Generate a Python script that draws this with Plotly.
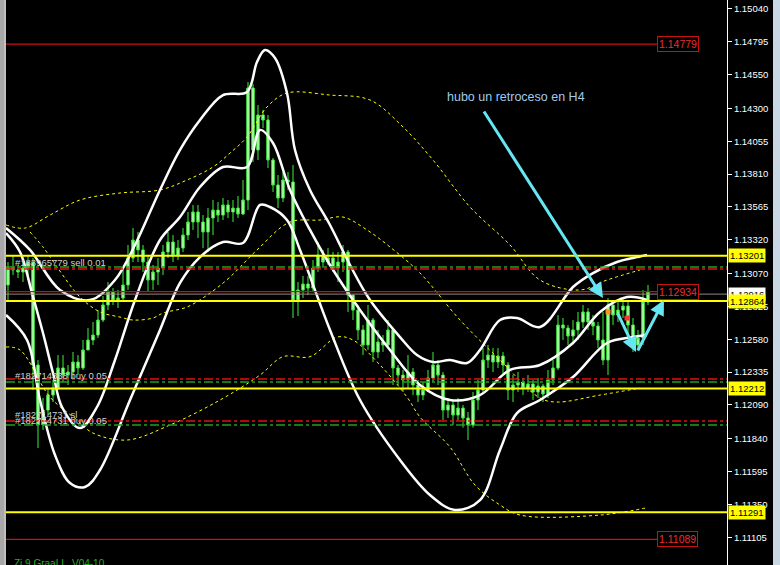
import plotly.graph_objects as go

# ---------------- data (EURUSD-like candles) ----------------
opens = [1.12984, 1.13111, 1.13096, 1.13081, 1.13111, 1.13155, 1.12388, 1.11941, 1.12052, 1.12164,
         1.12216, 1.12366, 1.12313, 1.12336, 1.12410, 1.12366, 1.12500, 1.12574, 1.12611, 1.12723,
         1.12835, 1.12932, 1.12872, 1.12887, 1.12984, 1.13185, 1.13319, 1.13245, 1.13155, 1.13021,
         1.13081, 1.13111, 1.13230, 1.13304, 1.13207, 1.13259, 1.13356, 1.13453, 1.13528, 1.13453,
         1.13379, 1.13483, 1.13542, 1.13505, 1.13580, 1.13528, 1.13557, 1.13513, 1.13617, 1.14451,
         1.13990, 1.14250, 1.14213, 1.13915, 1.13729, 1.13632, 1.13766, 1.13751, 1.12872, 1.12947,
         1.12991, 1.12961, 1.13111, 1.13207, 1.13155, 1.13185, 1.13111, 1.13155, 1.13230, 1.12909,
         1.12797, 1.12649, 1.12537, 1.12723, 1.12485, 1.12559, 1.12537, 1.12649, 1.12366, 1.12313,
         1.12276, 1.12336, 1.12239, 1.12164, 1.12202, 1.12291, 1.12388, 1.12313, 1.12052, 1.12090,
         1.12015, 1.12067, 1.11993, 1.11941, 1.12127, 1.12202, 1.12425, 1.12462, 1.12410, 1.12455,
         1.12388, 1.12202, 1.12239, 1.12261, 1.12216, 1.12246, 1.12187, 1.12231, 1.12172, 1.12276,
         1.12366, 1.12686, 1.12663, 1.12604, 1.12649, 1.12708, 1.12783, 1.12708, 1.12678, 1.12574,
         1.12425, 1.12835, 1.12760, 1.12797, 1.12827, 1.12686, 1.12537, 1.12589, 1.12857]
closes = [1.13111, 1.13096, 1.13081, 1.13111, 1.13155, 1.12388, 1.11941, 1.12052, 1.12164, 1.12216,
          1.12366, 1.12313, 1.12336, 1.12410, 1.12366, 1.12500, 1.12574, 1.12611, 1.12723, 1.12835,
          1.12932, 1.12872, 1.12887, 1.12984, 1.13185, 1.13319, 1.13245, 1.13155, 1.13021, 1.13081,
          1.13111, 1.13230, 1.13304, 1.13207, 1.13259, 1.13356, 1.13453, 1.13528, 1.13453, 1.13379,
          1.13483, 1.13542, 1.13505, 1.13580, 1.13528, 1.13557, 1.13513, 1.13617, 1.14451, 1.13990,
          1.14250, 1.14213, 1.13915, 1.13729, 1.13632, 1.13766, 1.13751, 1.12872, 1.12947, 1.12991,
          1.12961, 1.13111, 1.13207, 1.13155, 1.13185, 1.13111, 1.13155, 1.13230, 1.12909, 1.12797,
          1.12649, 1.12537, 1.12723, 1.12485, 1.12559, 1.12537, 1.12649, 1.12366, 1.12313, 1.12276,
          1.12336, 1.12239, 1.12164, 1.12202, 1.12291, 1.12388, 1.12313, 1.12052, 1.12090, 1.12015,
          1.12067, 1.11993, 1.11941, 1.12127, 1.12202, 1.12425, 1.12462, 1.12410, 1.12455, 1.12388,
          1.12202, 1.12239, 1.12261, 1.12216, 1.12246, 1.12187, 1.12231, 1.12172, 1.12276, 1.12366,
          1.12686, 1.12663, 1.12604, 1.12649, 1.12708, 1.12783, 1.12708, 1.12678, 1.12574, 1.12425,
          1.12835, 1.12760, 1.12797, 1.12827, 1.12686, 1.12537, 1.12589, 1.12857, 1.12934]
highs = [1.13155, 1.13207, 1.13133, 1.13155, 1.13207, 1.13185, 1.12425, 1.12142, 1.12216, 1.12276,
         1.12462, 1.12462, 1.12388, 1.12485, 1.12462, 1.12574, 1.12663, 1.12708, 1.12797, 1.12902,
         1.13006, 1.12961, 1.12947, 1.13096, 1.13282, 1.13408, 1.13379, 1.13282, 1.13207, 1.13133,
         1.13185, 1.13282, 1.13379, 1.13356, 1.13319, 1.13408, 1.13528, 1.13580, 1.13580, 1.13505,
         1.13557, 1.13617, 1.13602, 1.13632, 1.13617, 1.13617, 1.13647, 1.13766, 1.14496, 1.14481,
         1.14325, 1.14288, 1.14250, 1.13930, 1.13803, 1.13826, 1.13826, 1.13878, 1.13006, 1.13051,
         1.13051, 1.13170, 1.13304, 1.13245, 1.13259, 1.13230, 1.13230, 1.13282, 1.13245, 1.12909,
         1.12835, 1.12686, 1.12835, 1.12738, 1.12649, 1.12611, 1.12723, 1.12663, 1.12388, 1.12351,
         1.12462, 1.12366, 1.12276, 1.12261, 1.12351, 1.12485, 1.12425, 1.12336, 1.12142, 1.12127,
         1.12142, 1.12090, 1.12038, 1.12187, 1.12276, 1.12514, 1.12537, 1.12514, 1.12514, 1.12485,
         1.12410, 1.12313, 1.12336, 1.12291, 1.12313, 1.12276, 1.12291, 1.12246, 1.12351, 1.12425,
         1.12760, 1.12738, 1.12686, 1.12723, 1.12783, 1.12835, 1.12812, 1.12760, 1.12708, 1.12783,
         1.12887, 1.12835, 1.12857, 1.12887, 1.12872, 1.12738, 1.12649, 1.12947, 1.12984]
lows = [1.12872, 1.13058, 1.13036, 1.13006, 1.13021, 1.12202, 1.11769, 1.11904, 1.12015, 1.12112,
        1.12202, 1.12261, 1.12239, 1.12291, 1.12313, 1.12351, 1.12500, 1.12537, 1.12589, 1.12708,
        1.12797, 1.12835, 1.12812, 1.12857, 1.12947, 1.13155, 1.13155, 1.13081, 1.12932, 1.12947,
        1.12984, 1.13058, 1.13185, 1.13155, 1.13170, 1.13230, 1.13319, 1.13394, 1.13334, 1.13259,
        1.13230, 1.13356, 1.13453, 1.13468, 1.13483, 1.13453, 1.13483, 1.13505, 1.13542, 1.13900,
        1.13915, 1.14153, 1.13855, 1.13677, 1.13557, 1.13602, 1.13692, 1.12738, 1.12753, 1.12887,
        1.12909, 1.12932, 1.13081, 1.13111, 1.13133, 1.13081, 1.13006, 1.13081, 1.12783, 1.12723,
        1.12574, 1.12462, 1.12500, 1.12410, 1.12440, 1.12485, 1.12514, 1.12239, 1.12239, 1.12187,
        1.12216, 1.12164, 1.12112, 1.12127, 1.12187, 1.12261, 1.12239, 1.11978, 1.11993, 1.11941,
        1.11978, 1.11921, 1.11829, 1.11921, 1.12052, 1.12187, 1.12366, 1.12336, 1.12366, 1.12313,
        1.12127, 1.12112, 1.12187, 1.12164, 1.12187, 1.12127, 1.12142, 1.12112, 1.12142, 1.12239,
        1.12351, 1.12574, 1.12537, 1.12559, 1.12574, 1.12663, 1.12649, 1.12611, 1.12514, 1.12388,
        1.12313, 1.12686, 1.12708, 1.12738, 1.12611, 1.12485, 1.12514, 1.12537, 1.12835]
bars = list(range(len(closes)))

# trade marks (bar, price)
mark_bars = [120, 123.8]
mark_prices = [1.12783, 1.12738]
mark_colors = ["#ff9020", "#ff3030"]

# white envelope lines (bar position, price)
env_up_x = [-0.4, 4.4, 10.4, 16.4, 21.4, 25.4, 30.4, 34.4, 38.4, 43, 47.8, 49.8, 51.4, 53.4, 55.8, 57.4,
            60.4, 64.4, 68.4, 72.4, 78.4, 81.8, 85, 88.4, 91.8, 94.4, 98.4, 101.8, 106.4, 113, 117, 121.8, 125, 127.8]
env_up_y = [1.13408, 1.13245, 1.12947, 1.12872, 1.13021, 1.13282, 1.13692, 1.13990, 1.14213, 1.14399,
            1.14422, 1.14645, 1.14735, 1.14675, 1.14414, 1.13990, 1.13692, 1.13431, 1.13133, 1.12872,
            1.12596, 1.12462, 1.12410, 1.12425, 1.12403, 1.12500, 1.12723, 1.12738, 1.12671, 1.12969,
            1.13073, 1.13155, 1.13185, 1.13207]
env_mid_x = [-0.4, 2.4, 4.8, 7, 9, 10.8, 14.4, 17.8, 21.4, 25.4, 30.4, 34.4, 38.4, 43, 47.8, 50.4, 53,
             56.4, 60.4, 64.4, 70.4, 76.4, 82.4, 88.4, 94.4, 100.4, 106.4, 113, 118.4, 123.8, 127.8]
env_mid_y = [1.13371, 1.13230, 1.12924, 1.12626, 1.12328, 1.12075, 1.11918, 1.12075, 1.12425, 1.12872,
             1.13319, 1.13490, 1.13714, 1.13863, 1.13863, 1.14139, 1.14042, 1.13692, 1.13394, 1.13133,
             1.12798, 1.12500, 1.12239, 1.12127, 1.12164, 1.12351, 1.12388, 1.12552, 1.12783, 1.12894, 1.12872]
env_dn_x = [-0.4, 3.8, 6.4, 9.4, 12.4, 15.4, 18.4, 24.4, 30.4, 34.4, 38.4, 43, 47, 50.4, 52.4, 55.8,
            58.4, 64.4, 70.4, 78.4, 84.4, 89.4, 94.4, 98.4, 101.8, 106.4, 113, 119.8, 125, 127.8]
env_dn_y = [1.12760, 1.12574, 1.12127, 1.11717, 1.11509, 1.11479, 1.11606, 1.12127, 1.12649, 1.12999,
            1.13192, 1.13304, 1.13297, 1.13580, 1.13565, 1.13468, 1.13245, 1.12649, 1.12127, 1.11680,
            1.11419, 1.11308, 1.11382, 1.11755, 1.12030, 1.12127, 1.12298, 1.12552, 1.12596, 1.12611]

# yellow dotted envelope lines
ye_up_x = [-0.4, 3.4, 8.4, 14.4, 22.4, 30.4, 35.8, 41, 44.4, 47.8, 51.8, 55.8, 64.4, 72.4, 79, 85,
           92.4, 100.4, 106.4, 114.4, 119.8, 126.4]
ye_up_y = [1.13431, 1.13408, 1.13505, 1.13617, 1.13669, 1.13692, 1.13766, 1.13863, 1.13967, 1.14086,
           1.14310, 1.14414, 1.14399, 1.14362, 1.14161, 1.13915, 1.13565, 1.13282, 1.13021, 1.12947,
           1.13021, 1.13096]
ye_mid_x = [4.4, 7, 9.8, 14.4, 18.4, 22.4, 25, 29, 31, 35.8, 40.4, 44.4, 49.8, 56.4, 62.4, 67, 71.8,
            76.4, 82.4, 90.4, 98.4, 106.4, 109.8, 118.4, 126.4]
ye_mid_y = [1.13379, 1.13267, 1.13118, 1.12894, 1.12783, 1.12745, 1.12723, 1.12738, 1.12775, 1.12820,
            1.12924, 1.13043, 1.13245, 1.13453, 1.13468, 1.13490, 1.13394, 1.13267, 1.13073, 1.12723,
            1.12425, 1.12142, 1.12112, 1.12164, 1.12216]
ye_dn_x = [-0.4, 2.4, 8.4, 13.8, 17, 23.8, 32.4, 42.4, 50.4, 55, 60.4, 65.8, 69, 74.4, 79.8, 82.4,
           88.4, 93.4, 98.4, 102.4, 118.4, 127.4]
ye_dn_y = [1.12522, 1.12500, 1.12149, 1.11978, 1.11881, 1.11829, 1.11941, 1.12127, 1.12313, 1.12450,
           1.12450, 1.12596, 1.12574, 1.12388, 1.12149, 1.12000, 1.11777, 1.11494, 1.11345, 1.11270,
           1.11270, 1.11322]

# price axis
axis_ticks = [1.15040, 1.14795, 1.14550, 1.14300, 1.14055, 1.13810, 1.13565, 1.13320, 1.13070,
              1.12825, 1.12580, 1.12335, 1.12090, 1.11840, 1.11595, 1.11350, 1.11105]
axis_range = [1.10898, 1.15107]

# horizontal levels
yellow_levels = [1.13201, 1.12864, 1.12212, 1.11291]
red_levels = [1.14779, 1.12934, 1.11089]
bid_level = 1.12916
order_red = [1.13103, 1.12284, 1.11970]
order_green = [1.13118, 1.12261, 1.11941]
order_texts = ["#183965779 sell 0.01", "#182714338 buy 0.05", "#182714731 sl", "#182714731 buy 0.05"]
order_text_prices = [1.13148, 1.12313, 1.12022, 1.11978]

X0, X1 = -0.4, 143.8
LABEL_X = 129.8
FONT = "Liberation Sans, Arial, sans-serif"

fig = go.Figure()

def add_line(xs, ys, color, width, dash="solid"):
    fig.add_trace(go.Scatter(x=xs, y=ys, mode="lines", hoverinfo="skip",
                             line=dict(color=color, width=width, dash=dash, shape="spline", smoothing=1.0)))

for xs, ys in [(ye_up_x, ye_up_y), (ye_mid_x, ye_mid_y), (ye_dn_x, ye_dn_y)]:
    add_line(xs, ys, "#ffff00", 1, "dot")

# horizontal lines
shapes = []
for lv in order_red:
    shapes.append(dict(type="line", xref="x", yref="y", x0=X0, x1=X1, y0=lv, y1=lv,
                       line=dict(color="#e01010", width=1.5, dash="dashdot")))
for lv in order_green:
    shapes.append(dict(type="line", xref="x", yref="y", x0=X0, x1=X1, y0=lv, y1=lv,
                       line=dict(color="#20a020", width=1.5, dash="dashdot")))
shapes.append(dict(type="line", xref="x", yref="y", x0=X0, x1=X1, y0=bid_level, y1=bid_level,
                   line=dict(color="#8a8a8a", width=1)))
for lv in red_levels:
    shapes.append(dict(type="line", xref="x", yref="y", x0=X0, x1=LABEL_X, y0=lv, y1=lv,
                       line=dict(color="#c81010", width=1.3)))
for lv in yellow_levels:
    shapes.append(dict(type="line", xref="x", yref="y", x0=X0, x1=X1, y0=lv, y1=lv,
                       line=dict(color="#ffff00", width=2)))

for xs, ys in [(env_up_x, env_up_y), (env_mid_x, env_mid_y), (env_dn_x, env_dn_y)]:
    add_line(xs, ys, "#ffffff", 2.5)

fig.add_trace(go.Candlestick(
    x=bars, open=opens, high=highs, low=lows, close=closes, whiskerwidth=0,
    increasing=dict(line=dict(color="#3cf03c", width=1), fillcolor="#c4f8bc"),
    decreasing=dict(line=dict(color="#3cf03c", width=1), fillcolor="#c4f8bc"),
    hoverinfo="skip"))

fig.add_trace(go.Scatter(x=mark_bars, y=mark_prices, mode="markers", hoverinfo="skip",
                         marker=dict(symbol="square", size=5, color=mark_colors)))

# window frame decorations
shapes.append(dict(type="rect", xref="paper", yref="paper", x0=-6/721, x1=-2/721, y0=0, y1=1,
                   fillcolor="#a8a8a8", line=dict(width=0), layer="above"))
shapes.append(dict(type="line", xref="paper", yref="paper", x0=-1/721, x1=-1/721, y0=0, y1=1,
                   line=dict(color="#ffffff", width=1.5), layer="above"))
shapes.append(dict(type="rect", xref="paper", yref="paper", x0=767/721, x1=775/721, y0=0, y1=1,
                   fillcolor="#c9d6e3", line=dict(width=0), layer="above"))

ann = []
label_font = dict(family=FONT, size=9.5)
# bid label (partly hidden)
ann.append(dict(xref="paper", yref="y", x=1, y=bid_level, xanchor="left", yanchor="middle", xshift=1,
                text="1.12916", showarrow=False, bgcolor="#ffffff", borderpad=1,
                font=dict(color="#000000", **label_font)))
for lv in yellow_levels:
    ann.append(dict(xref="paper", yref="y", x=1, y=lv, xanchor="left", yanchor="middle", xshift=1,
                    text=f"{lv:.5f}", showarrow=False, bgcolor="#ffff00", borderpad=1,
                    font=dict(color="#000000", **label_font)))
for lv in red_levels:
    ann.append(dict(xref="x", yref="y", x=LABEL_X, y=lv, xanchor="left", yanchor="middle",
                    text=f"{lv:.5f}", showarrow=False, bgcolor="#000000", bordercolor="#c81010",
                    borderwidth=1, borderpad=1, font=dict(color="#e83030", size=10.5, family=FONT)))
for t, p in zip(order_texts, order_text_prices):
    ann.append(dict(xref="x", yref="y", x=1, y=p, xanchor="left", yanchor="middle", text=t,
                    showarrow=False, font=dict(color="#d0d0d0", size=9.5, family=FONT)))

ann.append(dict(xref="x", yref="y", x=87.4, y=1.14384, xanchor="left", yanchor="middle",
                text="hubo un retroceso en H4", showarrow=False,
                font=dict(color="#9fcbee", size=12.5, family=FONT)))
ann.append(dict(xref="x", yref="paper", x=0.8, y=0, xanchor="left", yanchor="middle", yshift=2,
                text="Zi 9 GraaLL  V04-10", showarrow=False,
                font=dict(color="#22b022", size=10, family=FONT)))

arrow = dict(showarrow=True, arrowhead=2, arrowsize=1, arrowwidth=3, arrowcolor="#66e6f2",
             xref="x", yref="y", axref="x", ayref="y", text="")
ann.append(dict(x=119, y=1.12887, ax=95, ay=1.14288, **arrow))
ann.append(dict(x=125.6, y=1.12485, ax=121.8, ay=1.12783, **arrow))
ann.append(dict(x=131.2, y=1.12872, ax=125.8, ay=1.12485, **arrow))

fig.update_layout(
    width=780, height=565, margin=dict(l=6, r=53, t=0, b=0),
    paper_bgcolor="#000000", plot_bgcolor="#000000", showlegend=False,
    shapes=shapes, annotations=ann,
    xaxis=dict(range=[X0, X1], visible=False, rangeslider=dict(visible=False), fixedrange=True),
    yaxis=dict(range=axis_range, side="right", tickvals=axis_ticks,
               ticktext=[f"{v:.5f}" for v in axis_ticks], showgrid=False, zeroline=False,
               showline=True, linecolor="#ffffff", linewidth=1, ticks="outside", ticklen=4,
               tickcolor="#ffffff", tickfont=dict(color="#ffffff", size=9.5, family=FONT)),
)
fig.write_html("out.html", config={"displayModeBar": False},
               post_script="document.body.style.margin='0px';")
